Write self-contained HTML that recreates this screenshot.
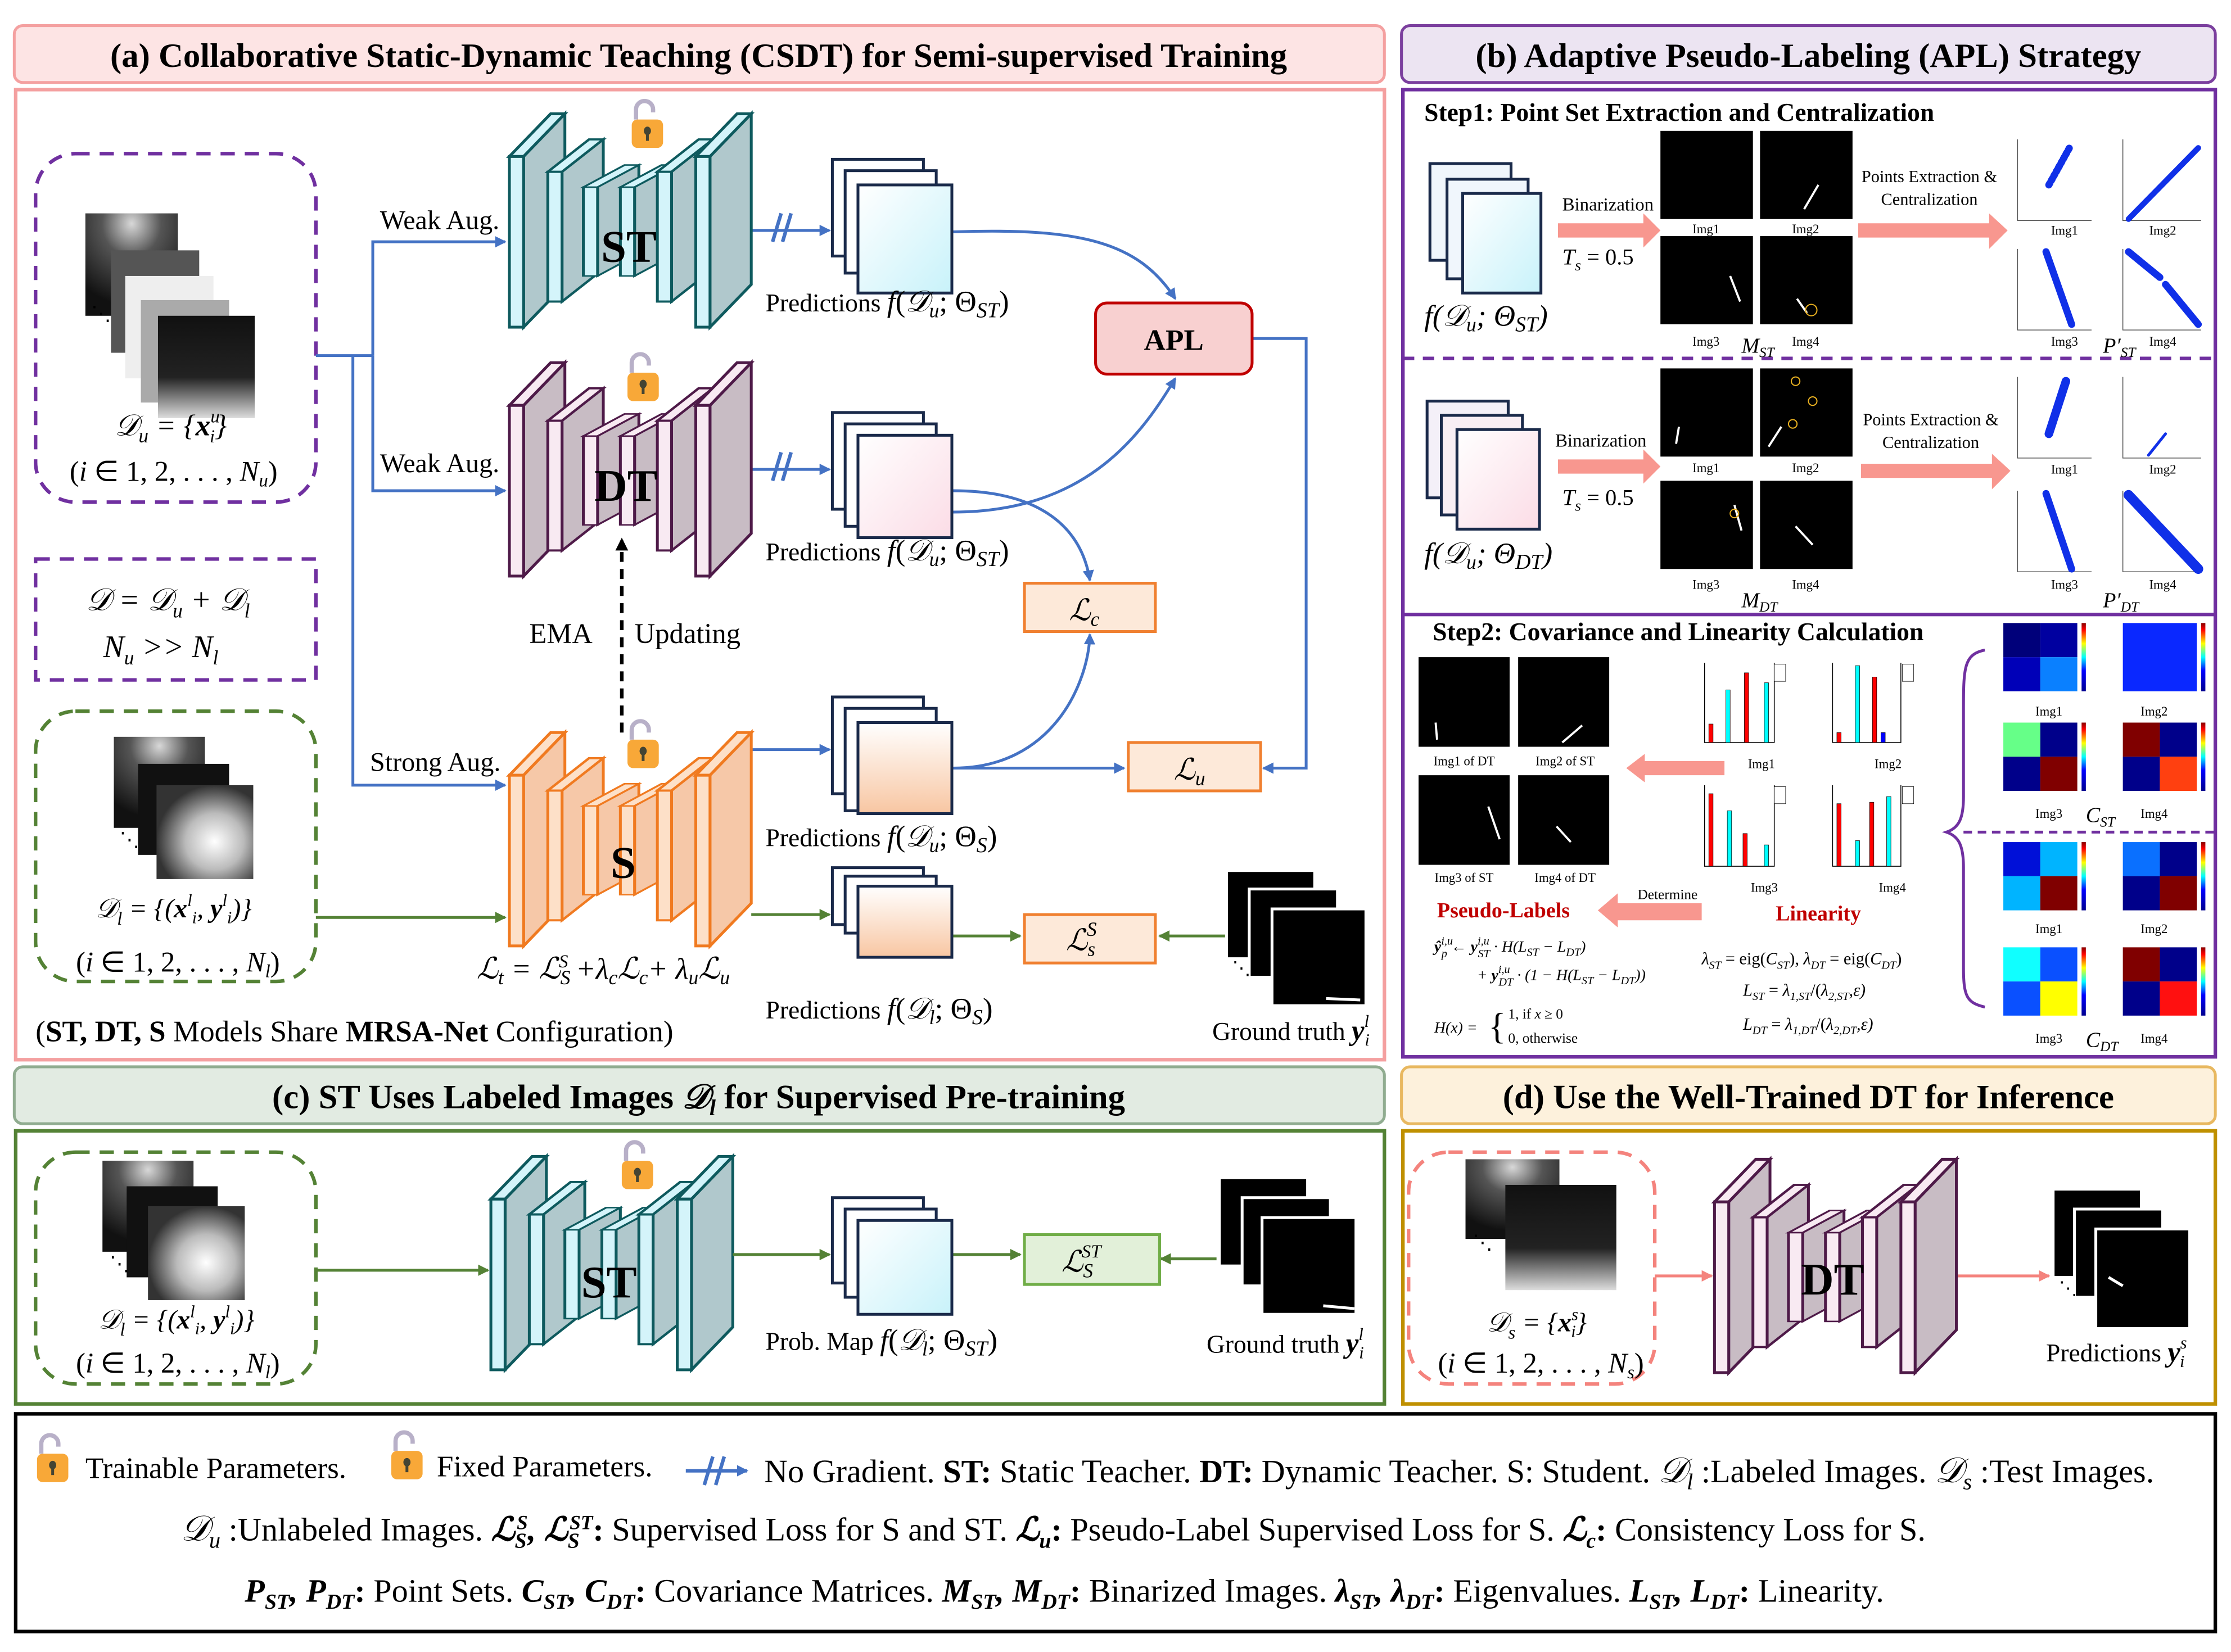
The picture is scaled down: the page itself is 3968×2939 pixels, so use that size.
<!DOCTYPE html>
<html><head><meta charset="utf-8"><style>
html,body{margin:0;padding:0;background:#fff}
svg{display:block}
text,tspan{font-family:"Liberation Serif",serif}
text{fill:#000}
.b{font-weight:bold}
.i{font-style:italic}
.st{--fr:#d4f4fa;--sd:#b0c8cc;--sk:#0e5a5e}
.dt{--fr:#f8eaf2;--sd:#c8bcc4;--sk:#4e1a48}
.s{--fr:#fde0c8;--sd:#f6c8a8;--sk:#f07a20}
</style></head><body>
<svg xmlns="http://www.w3.org/2000/svg" xmlns:xlink="http://www.w3.org/1999/xlink" width="3968" height="2939" viewBox="0 0 1568 1161.4">
<defs>
<marker id="ab" markerWidth="8" markerHeight="8" refX="7" refY="4" orient="auto" markerUnits="userSpaceOnUse"><path d="M0,0L8,4L0,8z" fill="#4472c4"/></marker>
<marker id="ag" markerWidth="8" markerHeight="8" refX="7" refY="4" orient="auto" markerUnits="userSpaceOnUse"><path d="M0,0L8,4L0,8z" fill="#548235"/></marker>
<marker id="ak" markerWidth="9" markerHeight="9" refX="7" refY="4.5" orient="auto" markerUnits="userSpaceOnUse"><path d="M0,0L9,4.5L0,9z" fill="#000"/></marker>
<marker id="ap" markerWidth="8" markerHeight="8" refX="7" refY="4" orient="auto" markerUnits="userSpaceOnUse"><path d="M0,0L8,4L0,8z" fill="#f4837d"/></marker>
<linearGradient id="gst" x1="0" y1="0" x2="1" y2="1"><stop offset="0" stop-color="#fff"/><stop offset="1" stop-color="#c8f2fa"/></linearGradient>
<linearGradient id="gdt" x1="0" y1="0" x2="1" y2="1"><stop offset="0" stop-color="#fff"/><stop offset="1" stop-color="#fbdce6"/></linearGradient>
<linearGradient id="gs" x1="0" y1="0" x2="0" y2="1"><stop offset="0" stop-color="#fff"/><stop offset="1" stop-color="#f8c6a2"/></linearGradient>
<radialGradient id="glow" cx="0.5" cy="0.1" r="0.8"><stop offset="0" stop-color="#d8d8d8"/><stop offset="0.4" stop-color="#555"/><stop offset="1" stop-color="#111"/></radialGradient>
<radialGradient id="glow2" cx="0.6" cy="0.6" r="0.6"><stop offset="0" stop-color="#fff"/><stop offset="0.5" stop-color="#bbb"/><stop offset="1" stop-color="#333"/></radialGradient>
<linearGradient id="gv" x1="0" y1="0" x2="0" y2="1"><stop offset="0" stop-color="#111"/><stop offset="0.6" stop-color="#222"/><stop offset="1" stop-color="#ddd"/></linearGradient>
<linearGradient id="jet" x1="0" y1="1" x2="0" y2="0"><stop offset="0" stop-color="#00008f"/><stop offset="0.3" stop-color="#00f"/><stop offset="0.5" stop-color="#0ff"/><stop offset="0.7" stop-color="#ff0"/><stop offset="0.9" stop-color="#f00"/><stop offset="1" stop-color="#800"/></linearGradient>
<g id="slab">
<polygon points="0,30 29,0 39,0 10,30" style="fill:var(--fr);stroke:var(--sk)" stroke-width="2"/>
<polygon points="10,30 39,0 39,120 10,150" style="fill:var(--sd);stroke:var(--sk)" stroke-width="2"/>
<rect x="0" y="30" width="10" height="120" style="fill:var(--fr);stroke:var(--sk)" stroke-width="2"/>
</g>
<g id="net">
<use xlink:href="#slab" transform="translate(0,0)"/>
<use xlink:href="#slab" transform="translate(27,18) scale(1,0.76)"/>
<use xlink:href="#slab" transform="translate(52,36) scale(1,0.52)"/>
<use xlink:href="#slab" transform="translate(78,36) scale(1,0.52)"/>
<use xlink:href="#slab" transform="translate(104,18) scale(1,0.76)"/>
<use xlink:href="#slab" transform="translate(131,0)"/>
</g>
<g id="lock"><path d="M3,0 v-7 a6,6 0 0 1 12,0 v2" fill="none" stroke="#b8b0c8" stroke-width="3"/><rect x="0" y="0" width="22" height="20" rx="4" fill="#f8a838"/><ellipse cx="11" cy="8" rx="2.5" ry="3" fill="#443"/><rect x="10" y="8" width="2" height="7" fill="#443"/></g>
</defs>

<!-- ===== Panel (a) ===== -->
<rect x="10" y="18" width="963" height="40" rx="6" fill="#fde4e4" stroke="#f4a0a0" stroke-width="2"/>
<text x="491" y="47" text-anchor="middle" font-size="24" class="b">(a) Collaborative Static-Dynamic Teaching (CSDT) for Semi-supervised Training</text>
<rect x="11" y="63" width="962" height="682" fill="none" stroke="#f4a0a0" stroke-width="2.5"/>

<rect x="25" y="108" width="197" height="245" rx="28" fill="none" stroke="#7030a0" stroke-width="2.5" stroke-dasharray="10,7"/>
<rect x="60" y="150" width="65" height="72" fill="url(#glow)"/>
<rect x="78" y="176" width="62" height="72" fill="#555"/>
<rect x="88" y="194" width="62" height="72" fill="#eee"/>
<rect x="99" y="211" width="62" height="72" fill="#aaa"/>
<rect x="111" y="222" width="68" height="72" fill="url(#gv)"/>
<text x="64" y="225" font-size="14">⋱</text>
<text x="120" y="306" text-anchor="middle" font-size="21" class="i">𝒟<tspan font-size="14" dy="5">u</tspan><tspan dy="-5"> = {</tspan><tspan class="b">x</tspan><tspan font-size="13" dy="-9">u</tspan><tspan font-size="13" dx="-7" dy="14">i</tspan><tspan dy="-5">}</tspan></text>
<text x="122" y="338" text-anchor="middle" font-size="20">(<tspan class="i">i</tspan> ∈ 1, 2, . . . , <tspan class="i">N</tspan><tspan font-size="13" class="i" dy="4">u</tspan><tspan dy="-4">)</tspan></text>

<rect x="25" y="393" width="197" height="85" fill="none" stroke="#7030a0" stroke-width="2.5" stroke-dasharray="10,7"/>
<text x="118" y="429" text-anchor="middle" font-size="22" class="i">𝒟 = 𝒟<tspan font-size="14" dy="5">u</tspan><tspan dy="-5"> + 𝒟</tspan><tspan font-size="14" dy="5">l</tspan></text>
<text x="113" y="462" text-anchor="middle" font-size="22" class="i">N<tspan font-size="14" dy="5">u</tspan><tspan dy="-5"> &gt;&gt; N</tspan><tspan font-size="14" dy="5">l</tspan></text>

<rect x="25" y="500" width="197" height="190" rx="28" fill="none" stroke="#548235" stroke-width="2.5" stroke-dasharray="10,7"/>
<rect x="80" y="518" width="64" height="64" fill="url(#glow)"/>
<rect x="97" y="537" width="64" height="64" fill="#111"/>
<rect x="110" y="552" width="68" height="66" fill="url(#glow2)"/>
<text x="84" y="595" font-size="14">⋱</text>
<text x="122" y="645" text-anchor="middle" font-size="19" class="i">𝒟<tspan font-size="13" dy="5">l</tspan><tspan dy="-5"> = {(</tspan><tspan class="b">x</tspan><tspan font-size="12" dy="-8">l</tspan><tspan font-size="12" dy="12">i</tspan><tspan dy="-4">, </tspan><tspan class="b">y</tspan><tspan font-size="12" dy="-8">l</tspan><tspan font-size="12" dy="12">i</tspan><tspan dy="-4">)}</tspan></text>
<text x="125" y="683" text-anchor="middle" font-size="20">(<tspan class="i">i</tspan> ∈ 1, 2, . . . , <tspan class="i">N</tspan><tspan font-size="13" class="i" dy="4">l</tspan><tspan dy="-4">)</tspan></text>

<g stroke="#4472c4" stroke-width="2" fill="none">
<path d="M222,250 H262"/>
<path d="M248,250 V552 H355" marker-end="url(#ab)"/>
<path d="M262,250 V170 H355" marker-end="url(#ab)"/>
<path d="M262,250 V345 H355" marker-end="url(#ab)"/>
<path d="M528,162 H583" marker-end="url(#ab)"/>
<path d="M528,330 H583" marker-end="url(#ab)"/>
<path d="M528,527 H583" marker-end="url(#ab)"/>
<path d="M670,163 C760,160 800,170 826,210" marker-end="url(#ab)"/>
<path d="M670,360 C760,360 800,310 826,266" marker-end="url(#ab)"/>
<path d="M670,345 C730,345 760,370 766,408" marker-end="url(#ab)"/>
<path d="M670,540 C740,540 765,480 766,446" marker-end="url(#ab)"/>
<path d="M670,540 H790" marker-end="url(#ab)"/>
<path d="M880,238 H918 V540 H888" marker-end="url(#ab)"/>
</g>
<g stroke="#4472c4" stroke-width="2.5"><path d="M543,170 L549,150 M550,170 L556,150"/><path d="M543,338 L549,318 M550,338 L556,318"/></g>
<text x="267" y="161" font-size="19">Weak Aug.</text>
<text x="267" y="332" font-size="19">Weak Aug.</text>
<text x="260" y="542" font-size="19">Strong Aug.</text>

<use xlink:href="#net" class="st" x="358" y="80"/>
<text x="442" y="184" text-anchor="middle" font-size="32" class="b">ST</text>
<use xlink:href="#lock" x="444" y="84"/>
<use xlink:href="#net" class="dt" x="358" y="255"/>
<text x="440" y="352" text-anchor="middle" font-size="32" class="b">DT</text>
<use xlink:href="#lock" x="441" y="262"/>
<use xlink:href="#net" class="s" x="358" y="515"/>
<text x="438" y="617" text-anchor="middle" font-size="32" class="b">S</text>
<use xlink:href="#lock" x="441" y="520"/>
<path d="M437,515 V380" stroke="#000" stroke-width="2.5" stroke-dasharray="7,5" marker-end="url(#ak)"/>
<text x="372" y="452" font-size="20">EMA</text>
<text x="446" y="452" font-size="20">Updating</text>

<g stroke="#1a2a4a" stroke-width="2">
<rect x="585" y="112" width="64" height="68" fill="#fff"/><rect x="594" y="120" width="64" height="72" fill="#fff"/><rect x="603" y="130" width="66" height="76" fill="url(#gst)"/>
<rect x="585" y="290" width="64" height="68" fill="#fff"/><rect x="594" y="298" width="64" height="72" fill="#fff"/><rect x="603" y="306" width="66" height="72" fill="url(#gdt)"/>
<rect x="585" y="490" width="64" height="68" fill="#fff"/><rect x="594" y="498" width="64" height="72" fill="#fff"/><rect x="603" y="508" width="66" height="64" fill="url(#gs)"/>
<rect x="585" y="610" width="64" height="40" fill="#fff"/><rect x="594" y="616" width="64" height="40" fill="#fff"/><rect x="603" y="623" width="66" height="50" fill="url(#gs)"/>
</g>
<text x="538" y="219" font-size="18">Predictions <tspan class="i" font-size="21">f</tspan><tspan font-size="21">(</tspan><tspan class="i" font-size="21">𝒟<tspan font-size="14" dy="4">u</tspan></tspan><tspan font-size="21" dy="-4">; Θ</tspan><tspan class="i" font-size="15" dy="4">ST</tspan><tspan font-size="21" dy="-4">)</tspan></text>
<text x="538" y="394" font-size="18">Predictions <tspan class="i" font-size="21">f</tspan><tspan font-size="21">(</tspan><tspan class="i" font-size="21">𝒟<tspan font-size="14" dy="4">u</tspan></tspan><tspan font-size="21" dy="-4">; Θ</tspan><tspan class="i" font-size="15" dy="4">ST</tspan><tspan font-size="21" dy="-4">)</tspan></text>
<text x="538" y="595" font-size="18">Predictions <tspan class="i" font-size="21">f</tspan><tspan font-size="21">(</tspan><tspan class="i" font-size="21">𝒟<tspan font-size="14" dy="4">u</tspan></tspan><tspan font-size="21" dy="-4">; Θ</tspan><tspan class="i" font-size="15" dy="4">S</tspan><tspan font-size="21" dy="-4">)</tspan></text>
<text x="538" y="716" font-size="18">Predictions <tspan class="i" font-size="21">f</tspan><tspan font-size="21">(</tspan><tspan class="i" font-size="21">𝒟<tspan font-size="14" dy="4">l</tspan></tspan><tspan font-size="21" dy="-4">; Θ</tspan><tspan class="i" font-size="15" dy="4">S</tspan><tspan font-size="21" dy="-4">)</tspan></text>

<rect x="770" y="213" width="110" height="50" rx="8" fill="#f8d0d0" stroke="#c00000" stroke-width="2"/>
<text x="825" y="246" text-anchor="middle" font-size="21" class="b">APL</text>
<rect x="720" y="410" width="92" height="34" fill="#fde9d9" stroke="#f08030" stroke-width="2"/>
<text x="762" y="436" text-anchor="middle" font-size="21" class="i">ℒ<tspan font-size="14" dy="4">c</tspan></text>
<rect x="793" y="522" width="93" height="34" fill="#fde9d9" stroke="#f08030" stroke-width="2"/>
<text x="836" y="548" text-anchor="middle" font-size="21" class="i">ℒ<tspan font-size="14" dy="4">u</tspan></text>
<rect x="720" y="643" width="92" height="34" fill="#fde9d9" stroke="#f08030" stroke-width="2"/>
<text x="760" y="668" text-anchor="middle" font-size="21" class="i">ℒ<tspan font-size="14" dy="4">s</tspan><tspan font-size="14" dx="-6" dy="-14">S</tspan></text>
<g stroke="#548235" stroke-width="2" fill="none">
<path d="M222,645 H355" marker-end="url(#ag)"/>
<path d="M528,643 H583" marker-end="url(#ag)"/>
<path d="M670,658 H717" marker-end="url(#ag)"/>
<path d="M862,658 H815" marker-end="url(#ag)"/>
</g>
<text x="335" y="688" font-size="21" class="i">ℒ<tspan font-size="14" dy="4">t</tspan><tspan dy="-4">  = ℒ</tspan><tspan font-size="14" dy="4">S</tspan><tspan font-size="13" dx="-8" dy="-12">S</tspan><tspan dy="8"> +λ</tspan><tspan font-size="14" dy="4">c</tspan><tspan dy="-4">ℒ</tspan><tspan font-size="14" dy="4">c</tspan><tspan dy="-4">+ λ</tspan><tspan font-size="14" dy="4">u</tspan><tspan dy="-4">ℒ</tspan><tspan font-size="14" dy="4">u</tspan></text>
<rect x="862" y="612" width="62" height="62" fill="#000" stroke="#fff" stroke-width="2"/>
<rect x="878" y="625" width="62" height="62" fill="#000" stroke="#fff" stroke-width="2"/>
<rect x="894" y="639" width="66" height="68" fill="#000" stroke="#fff" stroke-width="2"/>
<path d="M932,702 L956,703" stroke="#fff" stroke-width="2"/>
<text x="866" y="685" font-size="13">⋱</text>
<text x="852" y="731" font-size="18">Ground truth <tspan class="b i" font-size="20">y</tspan><tspan class="i" font-size="12" dy="-9">l</tspan><tspan class="i" font-size="12" dx="-3" dy="13">i</tspan></text>
<text x="25" y="732" font-size="21">(<tspan class="b">ST, DT, S</tspan> Models Share <tspan class="b">MRSA-Net</tspan> Configuration)</text>

<!-- ===== Panel (b) ===== -->
<rect x="985" y="18" width="572" height="40" rx="6" fill="#ece4f2" stroke="#7b3f9e" stroke-width="2"/>
<text x="1271" y="47" text-anchor="middle" font-size="24" class="b">(b) Adaptive Pseudo-Labeling (APL) Strategy</text>
<rect x="986" y="63" width="571" height="680" fill="none" stroke="#7030a0" stroke-width="2.5"/>
<path d="M986,252 H1557" stroke="#7030a0" stroke-width="2.5" stroke-dasharray="8,6"/>
<path d="M986,432 H1557" stroke="#7030a0" stroke-width="2.5"/>
<text x="1001" y="85" font-size="18" class="b">Step1: Point Set Extraction and Centralization</text>
<g stroke="#1a2a4a" stroke-width="2">
<rect x="1005" y="115" width="57" height="68" fill="#f0f6fc"/><rect x="1017" y="126" width="57" height="70" fill="#f0f6fc"/><rect x="1028" y="136" width="55" height="70" fill="url(#gst)"/>
<rect x="1003" y="282" width="57" height="68" fill="#f4f0f8"/><rect x="1013" y="292" width="57" height="70" fill="#f8eef4"/><rect x="1024" y="302" width="58" height="70" fill="url(#gdt)"/>
</g>
<text x="1001" y="229" font-size="21" class="i">f(𝒟<tspan font-size="14" dy="4">u</tspan><tspan dy="-4">; Θ</tspan><tspan font-size="15" dy="4">ST</tspan><tspan dy="-4">)</tspan></text>
<text x="1001" y="396" font-size="21" class="i">f(𝒟<tspan font-size="14" dy="4">u</tspan><tspan dy="-4">; Θ</tspan><tspan font-size="15" dy="4">DT</tspan><tspan dy="-4">)</tspan></text>
<text x="1098" y="148" font-size="13">Binarization</text>
<text x="1093" y="314" font-size="13">Binarization</text>
<text x="1098" y="186" font-size="16" class="i">T<tspan font-size="11" dy="4">s</tspan><tspan dy="-4" font-style="normal"> = 0.5</tspan></text>
<text x="1098" y="355" font-size="16" class="i">T<tspan font-size="11" dy="4">s</tspan><tspan dy="-4" font-style="normal"> = 0.5</tspan></text>
<g fill="#f8978f">
<polygon points="1095,157 1155,157 1155,150 1167,162 1155,174 1155,167 1095,167"/>
<polygon points="1095,323 1155,323 1155,316 1167,328 1155,340 1155,333 1095,333"/>
<polygon points="1306,157 1398,157 1398,150 1411,162 1398,175 1398,167 1306,167"/>
<polygon points="1308,326 1400,326 1400,319 1413,331 1400,344 1400,336 1308,336"/>
<polygon points="1156,535 1156,530 1143,540 1156,550 1156,545 1212,545 1212,535"/>
<polygon points="1137,635 1137,628 1123,640 1137,652 1137,647 1196,647 1196,635"/>
</g>
<g fill="#000">
<rect x="1167" y="92" width="65" height="62"/><rect x="1237" y="92" width="65" height="62"/>
<rect x="1167" y="166" width="65" height="62"/><rect x="1237" y="166" width="65" height="62"/>
<rect x="1167" y="259" width="65" height="62"/><rect x="1237" y="259" width="65" height="62"/>
<rect x="1167" y="338" width="65" height="62"/><rect x="1237" y="338" width="65" height="62"/>
</g>
<g stroke="#fff" stroke-width="1.5">
<path d="M1278,130 L1268,147"/><path d="M1216,194 L1223,212"/><path d="M1263,210 L1270,220"/>
<path d="M1180,300 L1178,312"/><path d="M1252,300 L1243,314"/><path d="M1219,355 L1224,373"/><path d="M1262,370 L1274,383"/>
</g>
<g fill="none" stroke="#e8b020" stroke-width="0.8"><circle cx="1273" cy="218" r="4"/><circle cx="1262" cy="268" r="3"/><circle cx="1274" cy="282" r="3"/><circle cx="1260" cy="298" r="3"/><circle cx="1219" cy="361" r="3"/></g>
<g font-size="9" text-anchor="middle">
<text x="1199" y="164">Img1</text><text x="1269" y="164">Img2</text><text x="1199" y="243">Img3</text><text x="1269" y="243">Img4</text>
<text x="1199" y="332">Img1</text><text x="1269" y="332">Img2</text><text x="1199" y="414">Img3</text><text x="1269" y="414">Img4</text>
<text x="1451" y="165">Img1</text><text x="1520" y="165">Img2</text><text x="1451" y="243">Img3</text><text x="1520" y="243">Img4</text>
<text x="1451" y="333">Img1</text><text x="1520" y="333">Img2</text><text x="1451" y="414">Img3</text><text x="1520" y="414">Img4</text>
</g>
<text x="1224" y="248" font-size="15" class="i">M<tspan font-size="10" dy="3">ST</tspan></text>
<text x="1224" y="427" font-size="15" class="i">M<tspan font-size="10" dy="3">DT</tspan></text>
<text x="1478" y="248" font-size="15" class="i">P′<tspan font-size="10" dy="3">ST</tspan></text>
<text x="1478" y="427" font-size="15" class="i">P′<tspan font-size="10" dy="3">DT</tspan></text>
<text x="1356" y="128" text-anchor="middle" font-size="12">Points Extraction &amp;</text>
<text x="1356" y="144" text-anchor="middle" font-size="12">Centralization</text>
<text x="1357" y="299" text-anchor="middle" font-size="12">Points Extraction &amp;</text>
<text x="1357" y="315" text-anchor="middle" font-size="12">Centralization</text>
<g stroke="#555" stroke-width="0.6" fill="none">
<path d="M1418,98 V155 H1470"/><path d="M1492,98 V155 H1547"/><path d="M1418,175 V232 H1470"/><path d="M1492,175 V232 H1547"/>
<path d="M1418,265 V322 H1470"/><path d="M1492,265 V322 H1547"/><path d="M1418,345 V402 H1470"/><path d="M1492,345 V402 H1547"/>
</g>
<g stroke="#1030e8" fill="none" stroke-linecap="round">
<path d="M1440,130 L1455,103" stroke-width="5" stroke-dasharray="1.5,2"/>
<path d="M1496,154 L1545,104" stroke-width="4"/>
<path d="M1438,177 L1456,228" stroke-width="5"/>
<path d="M1496,177 L1518,195 M1522,200 L1545,228" stroke-width="5"/>
<path d="M1440,305 L1452,268" stroke-width="6"/>
<path d="M1510,320 L1522,305" stroke-width="2"/>
<path d="M1438,347 L1456,400" stroke-width="5"/>
<path d="M1496,348 L1545,400" stroke-width="7"/>
</g>
<text x="1007" y="450" font-size="18" class="b">Step2: Covariance and Linearity Calculation</text>
<rect x="997" y="462" width="64" height="63" fill="#000"/><rect x="1067" y="462" width="64" height="63" fill="#000"/>
<rect x="997" y="545" width="64" height="63" fill="#000"/><rect x="1067" y="545" width="64" height="63" fill="#000"/>
<g stroke="#fff" stroke-width="1.5"><path d="M1009,508 L1010,520"/><path d="M1112,510 L1098,522"/><path d="M1046,567 L1054,590"/><path d="M1094,581 L1104,592"/></g>
<g font-size="9" text-anchor="middle"><text x="1029" y="538">Img1 of DT</text><text x="1100" y="538">Img2 of ST</text><text x="1029" y="620">Img3 of ST</text><text x="1100" y="620">Img4 of DT</text>
<text x="1238" y="540">Img1</text><text x="1327" y="540">Img2</text><text x="1240" y="627">Img3</text><text x="1330" y="627">Img4</text></g>
<g stroke="#000" stroke-width="0.6" fill="none">
<path d="M1198,466 V522 H1247 V466"/><path d="M1288,466 V522 H1336 V466"/>
<path d="M1198,552 V609 H1247 V552"/><path d="M1288,552 V609 H1336 V552"/>
</g>
<g stroke="#000" stroke-width="0.3">
<rect x="1201" y="509" width="3" height="13" fill="#f00"/><rect x="1213" y="485" width="3" height="37" fill="#0ff"/><rect x="1226" y="473" width="3" height="49" fill="#f00"/><rect x="1240" y="480" width="3" height="42" fill="#0ff"/>
<rect x="1291" y="515" width="3" height="7" fill="#f00"/><rect x="1304" y="468" width="3" height="54" fill="#0ff"/><rect x="1316" y="476" width="3" height="46" fill="#f00"/><rect x="1322" y="515" width="3" height="7" fill="#00f"/>
<rect x="1201" y="558" width="3" height="51" fill="#f00"/><rect x="1214" y="570" width="3" height="39" fill="#0ff"/><rect x="1225" y="586" width="3" height="23" fill="#f00"/><rect x="1240" y="594" width="3" height="15" fill="#0ff"/>
<rect x="1291" y="565" width="3" height="44" fill="#f00"/><rect x="1304" y="591" width="3" height="18" fill="#0ff"/><rect x="1314" y="564" width="3" height="45" fill="#f00"/><rect x="1326" y="560" width="3" height="49" fill="#0ff"/>
<rect x="1247" y="467" width="8" height="12" fill="#fff"/><rect x="1337" y="467" width="8" height="12" fill="#fff"/><rect x="1247" y="553" width="8" height="12" fill="#fff"/><rect x="1337" y="553" width="8" height="12" fill="#fff"/>
</g>
<text x="1172" y="632" font-size="10" text-anchor="middle">Determine</text>
<text x="1010" y="645" font-size="15" class="b" style="fill:#c00000">Pseudo-Labels</text>
<text x="1248" y="647" font-size="15" class="b" style="fill:#c00000">Linearity</text>
<text x="1008" y="669" font-size="11" class="i"><tspan class="b">ŷ</tspan><tspan font-size="8" dy="-5">i,u</tspan><tspan font-size="8" dx="-8" dy="9">p</tspan><tspan dy="-4"> ← </tspan><tspan class="b">y</tspan><tspan font-size="8" dy="-5">i,u</tspan><tspan font-size="8" dx="-8" dy="9">ST</tspan><tspan dy="-4"> · H(L</tspan><tspan font-size="8" dy="3">ST</tspan><tspan dy="-3"> − L</tspan><tspan font-size="8" dy="3">DT</tspan><tspan dy="-3">)</tspan></text>
<text x="1038" y="689" font-size="11" class="i">+ <tspan class="b">y</tspan><tspan font-size="8" dy="-5">i,u</tspan><tspan font-size="8" dx="-8" dy="9">DT</tspan><tspan dy="-4"> · (1 − H(L</tspan><tspan font-size="8" dy="3">ST</tspan><tspan dy="-3"> − L</tspan><tspan font-size="8" dy="3">DT</tspan><tspan dy="-3">))</tspan></text>
<text x="1008" y="726" font-size="11" class="i">H(x) = </text>
<text x="1046" y="730" font-size="26">{</text>
<text x="1060" y="716" font-size="10">1,   if <tspan class="i">x</tspan> ≥ 0</text>
<text x="1060" y="733" font-size="10">0,   otherwise</text>
<text x="1196" y="678" font-size="12" class="i">λ<tspan font-size="8" dy="3">ST</tspan><tspan dy="-3" font-style="normal"> = eig(</tspan>C<tspan font-size="8" dy="3">ST</tspan><tspan dy="-3" font-style="normal">), </tspan>λ<tspan font-size="8" dy="3">DT</tspan><tspan dy="-3" font-style="normal"> = eig(</tspan>C<tspan font-size="8" dy="3">DT</tspan><tspan dy="-3" font-style="normal">)</tspan></text>
<text x="1225" y="700" font-size="12" class="i">L<tspan font-size="8" dy="3">ST</tspan><tspan dy="-3" font-style="normal"> = </tspan>λ<tspan font-size="8" dy="3">1,ST</tspan><tspan dy="-3" font-style="normal">/(</tspan>λ<tspan font-size="8" dy="3">2,ST</tspan><tspan dy="-3">,ε)</tspan></text>
<text x="1225" y="724" font-size="12" class="i">L<tspan font-size="8" dy="3">DT</tspan><tspan dy="-3" font-style="normal"> = </tspan>λ<tspan font-size="8" dy="3">1,DT</tspan><tspan dy="-3" font-style="normal">/(</tspan>λ<tspan font-size="8" dy="3">2,DT</tspan><tspan dy="-3">,ε)</tspan></text>
<path d="M1395,457 C1380,460 1380,470 1380,500 V560 C1380,575 1377,582 1368,585 C1377,588 1380,595 1380,610 V680 C1380,700 1382,705 1395,708" fill="none" stroke="#7030a0" stroke-width="2"/>
<path d="M1380,585 H1557" stroke="#7030a0" stroke-width="2" stroke-dasharray="6,4"/>
<g>
<rect x="1408" y="438" width="26" height="24" fill="#00007a"/><rect x="1434" y="438" width="26" height="24" fill="#0000a0"/><rect x="1408" y="462" width="26" height="24" fill="#0000b8"/><rect x="1434" y="462" width="26" height="24" fill="#0a80ff"/>
<rect x="1492" y="438" width="52" height="48" fill="#0a28ff"/>
<rect x="1408" y="508" width="26" height="24" fill="#66ff88"/><rect x="1434" y="508" width="26" height="24" fill="#00008a"/><rect x="1408" y="532" width="26" height="24" fill="#00008a"/><rect x="1434" y="532" width="26" height="24" fill="#800000"/>
<rect x="1492" y="508" width="26" height="24" fill="#800000"/><rect x="1518" y="508" width="26" height="24" fill="#00008a"/><rect x="1492" y="532" width="26" height="24" fill="#00008a"/><rect x="1518" y="532" width="26" height="24" fill="#ff4010"/>
<rect x="1408" y="592" width="26" height="24" fill="#0010d8"/><rect x="1434" y="592" width="26" height="24" fill="#00b4ff"/><rect x="1408" y="616" width="26" height="24" fill="#00b4ff"/><rect x="1434" y="616" width="26" height="24" fill="#800000"/>
<rect x="1492" y="592" width="26" height="24" fill="#0a70ff"/><rect x="1518" y="592" width="26" height="24" fill="#00008a"/><rect x="1492" y="616" width="26" height="24" fill="#00008a"/><rect x="1518" y="616" width="26" height="24" fill="#800000"/>
<rect x="1408" y="666" width="26" height="24" fill="#10ffff"/><rect x="1434" y="666" width="26" height="24" fill="#0a50ff"/><rect x="1408" y="690" width="26" height="24" fill="#0a50ff"/><rect x="1434" y="690" width="26" height="24" fill="#ffff00"/>
<rect x="1492" y="666" width="26" height="24" fill="#800000"/><rect x="1518" y="666" width="26" height="24" fill="#00008a"/><rect x="1492" y="690" width="26" height="24" fill="#00008a"/><rect x="1518" y="690" width="26" height="24" fill="#ff1010"/>
</g>
<g fill="url(#jet)"><rect x="1463" y="438" width="3" height="48"/><rect x="1547" y="438" width="3" height="48"/><rect x="1463" y="508" width="3" height="48"/><rect x="1547" y="508" width="3" height="48"/><rect x="1463" y="592" width="3" height="48"/><rect x="1547" y="592" width="3" height="48"/><rect x="1463" y="666" width="3" height="48"/><rect x="1547" y="666" width="3" height="48"/></g>
<g font-size="9" text-anchor="middle"><text x="1440" y="503">Img1</text><text x="1514" y="503">Img2</text><text x="1440" y="575">Img3</text><text x="1514" y="575">Img4</text>
<text x="1440" y="656">Img1</text><text x="1514" y="656">Img2</text><text x="1440" y="733">Img3</text><text x="1514" y="733">Img4</text></g>
<text x="1466" y="578" font-size="15" class="i">C<tspan font-size="10" dy="3">ST</tspan></text>
<text x="1466" y="736" font-size="15" class="i">C<tspan font-size="10" dy="3">DT</tspan></text>

<!-- ===== Panel (c) ===== -->
<rect x="10" y="750" width="963" height="40" rx="6" fill="#e2ebe2" stroke="#90ac90" stroke-width="2"/>
<text x="491" y="779" text-anchor="middle" font-size="24" class="b">(c) ST Uses Labeled Images <tspan class="i">𝒟<tspan font-size="16" dy="5">l</tspan></tspan><tspan dy="-5"> for Supervised Pre-training</tspan></text>
<rect x="11" y="795" width="962" height="192" fill="none" stroke="#548235" stroke-width="2.5"/>
<rect x="25" y="810" width="197" height="163" rx="28" fill="none" stroke="#548235" stroke-width="2.5" stroke-dasharray="10,7"/>
<rect x="72" y="816" width="64" height="64" fill="url(#glow)"/>
<rect x="89" y="834" width="64" height="64" fill="#111"/>
<rect x="104" y="848" width="68" height="66" fill="url(#glow2)"/>
<text x="77" y="893" font-size="14">⋱</text>
<text x="124" y="934" text-anchor="middle" font-size="19" class="i">𝒟<tspan font-size="13" dy="5">l</tspan><tspan dy="-5"> = {(</tspan><tspan class="b">x</tspan><tspan font-size="12" dy="-8">l</tspan><tspan font-size="12" dy="12">i</tspan><tspan dy="-4">, </tspan><tspan class="b">y</tspan><tspan font-size="12" dy="-8">l</tspan><tspan font-size="12" dy="12">i</tspan><tspan dy="-4">)}</tspan></text>
<text x="125" y="965" text-anchor="middle" font-size="20">(<tspan class="i">i</tspan> ∈ 1, 2, . . . , <tspan class="i">N</tspan><tspan font-size="13" class="i" dy="4">l</tspan><tspan dy="-4">)</tspan></text>
<use xlink:href="#net" class="st" x="345" y="813"/>
<text x="428" y="912" text-anchor="middle" font-size="32" class="b">ST</text>
<use xlink:href="#lock" x="437" y="816"/>
<g stroke="#548235" stroke-width="2" fill="none">
<path d="M222,893 H343" marker-end="url(#ag)"/>
<path d="M515,882 H583" marker-end="url(#ag)"/>
<path d="M670,882 H717" marker-end="url(#ag)"/>
<path d="M855,885 H816" marker-end="url(#ag)"/>
</g>
<g stroke="#1a2a4a" stroke-width="2">
<rect x="585" y="842" width="64" height="60" fill="#fff"/><rect x="594" y="850" width="64" height="62" fill="#fff"/><rect x="603" y="858" width="66" height="66" fill="url(#gst)"/>
</g>
<text x="538" y="949" font-size="18">Prob. Map <tspan class="i" font-size="21">f</tspan><tspan font-size="21">(</tspan><tspan class="i" font-size="21">𝒟<tspan font-size="14" dy="4">l</tspan></tspan><tspan font-size="21" dy="-4">; Θ</tspan><tspan class="i" font-size="15" dy="4">ST</tspan><tspan font-size="21" dy="-4">)</tspan></text>
<rect x="720" y="868" width="95" height="35" fill="#e2f0d9" stroke="#70ad47" stroke-width="2"/>
<text x="760" y="894" text-anchor="middle" font-size="21" class="i">ℒ<tspan font-size="14" dy="4">S</tspan><tspan font-size="13" dx="-8" dy="-14">ST</tspan></text>
<rect x="857" y="828" width="62" height="62" fill="#000" stroke="#fff" stroke-width="2"/>
<rect x="873" y="842" width="62" height="62" fill="#000" stroke="#fff" stroke-width="2"/>
<rect x="887" y="856" width="66" height="68" fill="#000" stroke="#fff" stroke-width="2"/>
<path d="M930,918 L952,920" stroke="#fff" stroke-width="2"/>
<text x="848" y="951" font-size="18">Ground truth <tspan class="b i" font-size="20">y</tspan><tspan class="i" font-size="12" dy="-9">l</tspan><tspan class="i" font-size="12" dx="-3" dy="13">i</tspan></text>

<!-- ===== Panel (d) ===== -->
<rect x="985" y="750" width="572" height="40" rx="6" fill="#fdf1dc" stroke="#e8b860" stroke-width="2"/>
<text x="1271" y="779" text-anchor="middle" font-size="24" class="b">(d) Use the Well-Trained DT for Inference</text>
<rect x="986" y="795" width="571" height="192" fill="none" stroke="#bf9000" stroke-width="2.5"/>
<rect x="990" y="810" width="173" height="163" rx="28" fill="none" stroke="#f4837d" stroke-width="2.5" stroke-dasharray="10,7"/>
<rect x="1030" y="815" width="66" height="56" fill="url(#glow)"/>
<rect x="1058" y="833" width="78" height="74" fill="url(#gv)"/>
<text x="1035" y="878" font-size="14">⋱</text>
<text x="1080" y="936" text-anchor="middle" font-size="19" class="i">𝒟<tspan font-size="13" dy="5">s</tspan><tspan dy="-5"> = {</tspan><tspan class="b">x</tspan><tspan font-size="12" dy="-8">s</tspan><tspan font-size="12" dx="-5" dy="12">i</tspan><tspan dy="-4">}</tspan></text>
<text x="1083" y="965" text-anchor="middle" font-size="20">(<tspan class="i">i</tspan> ∈ 1, 2, . . . , <tspan class="i">N</tspan><tspan font-size="13" class="i" dy="4">s</tspan><tspan dy="-4">)</tspan></text>
<use xlink:href="#net" class="dt" x="1205" y="815"/>
<text x="1288" y="910" text-anchor="middle" font-size="32" class="b">DT</text>
<g stroke="#f4837d" stroke-width="2" fill="none">
<path d="M1163,897 H1203" marker-end="url(#ap)"/>
<path d="M1376,897 H1440" marker-end="url(#ap)"/>
</g>
<rect x="1443" y="836" width="62" height="62" fill="#000" stroke="#fff" stroke-width="2"/>
<rect x="1458" y="850" width="62" height="62" fill="#000" stroke="#fff" stroke-width="2"/>
<rect x="1473" y="864" width="66" height="70" fill="#000" stroke="#fff" stroke-width="2"/>
<path d="M1482,898 L1492,904" stroke="#fff" stroke-width="2"/>
<text x="1447" y="910" font-size="13">⋱</text>
<text x="1438" y="957" font-size="18">Predictions <tspan class="b i" font-size="20">y</tspan><tspan class="i" font-size="12" dy="-9">s</tspan><tspan class="i" font-size="12" dx="-5" dy="13">i</tspan></text>

<!-- ===== Legend ===== -->
<rect x="11" y="994" width="1546" height="153" fill="#fff" stroke="#000" stroke-width="2.5"/>
<use xlink:href="#lock" x="26" y="1022"/>
<text x="60" y="1039" font-size="21" style="font-family:'Liberation Serif',serif">Trainable Parameters.</text>
<use xlink:href="#lock" x="275" y="1020"/>
<text x="307" y="1038" font-size="21" style="font-family:'Liberation Serif',serif">Fixed Parameters.</text>
<path d="M482,1034 H525" stroke="#4472c4" stroke-width="2.5" marker-end="url(#ab)"/>
<path d="M495,1044 L501,1024 M503,1044 L509,1024" stroke="#4472c4" stroke-width="2.5"/>
<text x="537" y="1042" font-size="23" style="font-family:'Liberation Serif',serif">No Gradient. <tspan class="b">ST:</tspan> Static Teacher.  <tspan class="b">DT:</tspan> Dynamic Teacher. S: Student. <tspan class="i" font-size="25">𝒟<tspan font-size="16" dy="5">l</tspan></tspan><tspan dy="-5"> :Labeled Images.  </tspan><tspan class="i" font-size="25">𝒟<tspan font-size="16" dy="5">s</tspan></tspan><tspan dy="-5"> :Test Images.</tspan></text>
<text x="127" y="1083" font-size="23" style="font-family:'Liberation Serif',serif"><tspan class="i" font-size="25">𝒟<tspan font-size="16" dy="5">u</tspan></tspan><tspan dy="-5"> :Unlabeled Images.    </tspan><tspan class="i b">ℒ<tspan font-size="15" dy="5">S</tspan><tspan font-size="14" dx="-7" dy="-13">S</tspan><tspan dy="8">, ℒ</tspan><tspan font-size="15" dy="5">S</tspan><tspan font-size="14" dx="-7" dy="-13">ST</tspan></tspan><tspan class="b" dy="8">:</tspan> Supervised  Loss for S and ST.    <tspan class="i b">ℒ<tspan font-size="15" dy="5">u</tspan></tspan><tspan class="b" dy="-5">:</tspan> Pseudo-Label Supervised Loss for S.    <tspan class="i b">ℒ<tspan font-size="15" dy="5">c</tspan></tspan><tspan class="b" dy="-5">:</tspan> Consistency Loss for S.</text>
<text x="172" y="1126" font-size="23" style="font-family:'Liberation Serif',serif"><tspan class="i b">P<tspan font-size="15" dy="5">ST</tspan><tspan dy="-5">, P</tspan><tspan font-size="15" dy="5">DT</tspan></tspan><tspan class="b" dy="-5">:</tspan> Point Sets. <tspan class="i b">C<tspan font-size="15" dy="5">ST</tspan><tspan dy="-5">, C</tspan><tspan font-size="15" dy="5">DT</tspan></tspan><tspan class="b" dy="-5">:</tspan> Covariance Matrices. <tspan class="i b">M<tspan font-size="15" dy="5">ST</tspan><tspan dy="-5">, M</tspan><tspan font-size="15" dy="5">DT</tspan></tspan><tspan class="b" dy="-5">:</tspan> Binarized Images. <tspan class="i b">λ<tspan font-size="15" dy="5">ST</tspan><tspan dy="-5">, λ</tspan><tspan font-size="15" dy="5">DT</tspan></tspan><tspan class="b" dy="-5">:</tspan> Eigenvalues. <tspan class="i b">L<tspan font-size="15" dy="5">ST</tspan><tspan dy="-5">, L</tspan><tspan font-size="15" dy="5">DT</tspan></tspan><tspan class="b" dy="-5">:</tspan> Linearity.</text>
</svg>
</body></html>
